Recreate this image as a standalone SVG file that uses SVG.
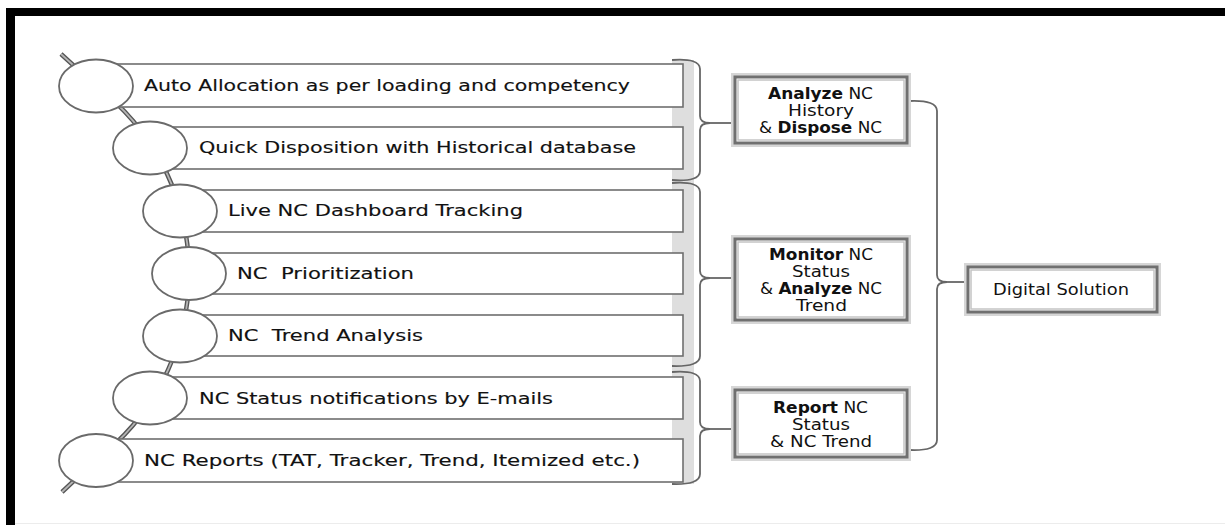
<svg xmlns="http://www.w3.org/2000/svg" width="1225" height="525" viewBox="0 0 1225 525">
<style>
.lbl{font-family:"DejaVu Sans","Liberation Sans",sans-serif;font-size:16.5px;fill:#111;white-space:pre;stroke:#111;stroke-width:0.15}
.rt{font-family:"DejaVu Sans","Liberation Sans",sans-serif;font-size:16px;fill:#111}
.b{font-weight:bold}
.item{fill:#fff;stroke:#6e6e6e;stroke-width:1.6}
.dot{fill:#fff;stroke:#6a6a6a;stroke-width:1.8}
.halo{fill:none;stroke:#d6d6d6;stroke-width:8}
.frameA{fill:#fff;stroke:#707070;stroke-width:3}
.frameB{fill:none;stroke:#c4c4c4;stroke-width:1.5}
.br{fill:none;stroke:#666;stroke-width:1.8}
</style>
<rect x="0" y="0" width="1225" height="525" fill="#fff"/>
<g id="frame">
<rect x="6" y="8" width="1219" height="8" fill="#000"/>
<rect x="6" y="8" width="9" height="517" fill="#000"/>
<line x1="15" y1="523.5" x2="1225" y2="523.5" stroke="#ececec" stroke-width="1"/>
</g>
<rect id="band" x="672" y="60" width="22" height="424" fill="#dedede"/>
<g id="spine">
<path d="M61,54 L96,86 A234.5,234.5 0 0 1 96,460 L62,492" fill="none" stroke="#555" stroke-width="4.5"/>
<path d="M61,54 L96,86 A234.5,234.5 0 0 1 96,460 L62,492" fill="none" stroke="#b5b5b5" stroke-width="1.8"/>
</g>
<g id="item1"><rect class="item" x="96" y="64" width="587" height="43"/><ellipse class="dot" cx="96" cy="86" rx="37" ry="26.5"/><text class="lbl" x="144" y="91" textLength="486" lengthAdjust="spacingAndGlyphs">Auto Allocation as per loading and competency</text></g>
<g id="item2"><rect class="item" x="150" y="127" width="533" height="42"/><ellipse class="dot" cx="150" cy="148" rx="37" ry="26.5"/><text class="lbl" x="199" y="153" textLength="437" lengthAdjust="spacingAndGlyphs">Quick Disposition with Historical database</text></g>
<g id="item3"><rect class="item" x="180" y="190" width="503" height="42"/><ellipse class="dot" cx="180" cy="211" rx="37" ry="26.5"/><text class="lbl" x="228" y="216" textLength="295" lengthAdjust="spacingAndGlyphs">Live NC Dashboard Tracking</text></g>
<g id="item4"><rect class="item" x="189" y="253" width="494" height="41"/><ellipse class="dot" cx="189" cy="273.5" rx="37" ry="26.5"/><text class="lbl" x="237" y="278.5" textLength="177" lengthAdjust="spacingAndGlyphs">NC  Prioritization</text></g>
<g id="item5"><rect class="item" x="180" y="315" width="503" height="41"/><ellipse class="dot" cx="180" cy="336" rx="37" ry="26.5"/><text class="lbl" x="228" y="341" textLength="195" lengthAdjust="spacingAndGlyphs">NC  Trend Analysis</text></g>
<g id="item6"><rect class="item" x="150" y="377" width="533" height="42"/><ellipse class="dot" cx="150" cy="398" rx="37" ry="26.5"/><text class="lbl" x="199" y="404" textLength="354" lengthAdjust="spacingAndGlyphs">NC Status notifications by E-mails</text></g>
<g id="item7"><rect class="item" x="96" y="439" width="587" height="43"/><ellipse class="dot" cx="96" cy="460.5" rx="37" ry="26.5"/><text class="lbl" x="144" y="466" textLength="496" lengthAdjust="spacingAndGlyphs">NC Reports (TAT, Tracker, Trend, Itemized etc.)</text></g>
<g id="connectors">
<path class="br" d="M672,60 Q700,58 700,69 V116 Q700,123 710,123 Q700,123 700,130 V171 Q700,182 672,180"/>
<line class="br" x1="710" y1="123" x2="737" y2="123"/>
<path class="br" d="M672,183 Q700,181 700,192 V271 Q700,278 710,278 Q700,278 700,285 V356 Q700,367 672,366"/>
<line class="br" x1="710" y1="278" x2="737" y2="278"/>
<path class="br" d="M672,372 Q700,370 700,381 V422 Q700,429 710,429 Q700,429 700,436 V474 Q700,485 672,484"/>
<line class="br" x1="710" y1="429" x2="737" y2="429"/>
<path class="br" d="M910,101 Q937,100 937,111 V275 Q937,282 947,282 Q937,282 937,289 V440 Q937,451 910,450"/>
<line class="br" x1="947" y1="282" x2="968" y2="282"/>
</g>
<g id="boxA"><rect class="halo" x="735" y="77" width="172" height="66"/><rect class="frameA" x="735" y="77" width="172" height="66"/><rect class="frameB" x="738" y="80" width="166" height="60"/>
<text class="rt" x="768" y="99" textLength="105" lengthAdjust="spacingAndGlyphs"><tspan class="b">Analyze</tspan> NC</text>
<text class="rt" x="788" y="116" textLength="66" lengthAdjust="spacingAndGlyphs">History</text>
<text class="rt" x="759" y="133" textLength="123" lengthAdjust="spacingAndGlyphs">&amp; <tspan class="b">Dispose</tspan> NC</text></g>
<g id="boxB"><rect class="halo" x="735" y="239" width="172" height="81"/><rect class="frameA" x="735" y="239" width="172" height="81"/><rect class="frameB" x="738" y="242" width="166" height="75"/>
<text class="rt" x="769" y="260" textLength="104" lengthAdjust="spacingAndGlyphs"><tspan class="b">Monitor</tspan> NC</text>
<text class="rt" x="792" y="277" textLength="58" lengthAdjust="spacingAndGlyphs">Status</text>
<text class="rt" x="760" y="294" textLength="122" lengthAdjust="spacingAndGlyphs">&amp; <tspan class="b">Analyze</tspan> NC</text>
<text class="rt" x="796" y="311" textLength="51" lengthAdjust="spacingAndGlyphs">Trend</text></g>
<g id="boxC"><rect class="halo" x="735" y="390" width="172" height="67"/><rect class="frameA" x="735" y="390" width="172" height="67"/><rect class="frameB" x="738" y="393" width="166" height="61"/>
<text class="rt" x="773" y="413" textLength="95" lengthAdjust="spacingAndGlyphs"><tspan class="b">Report</tspan> NC</text>
<text class="rt" x="792" y="430" textLength="58" lengthAdjust="spacingAndGlyphs">Status</text>
<text class="rt" x="770" y="447" textLength="102" lengthAdjust="spacingAndGlyphs">&amp; NC Trend</text></g>
<g id="digital"><rect class="halo" x="968" y="267" width="189" height="45"/><rect class="frameA" x="968" y="267" width="189" height="45"/><rect class="frameB" x="971" y="270" width="183" height="39"/>
<text class="rt" x="993" y="295" textLength="136" lengthAdjust="spacingAndGlyphs">Digital Solution</text></g>
</svg>
